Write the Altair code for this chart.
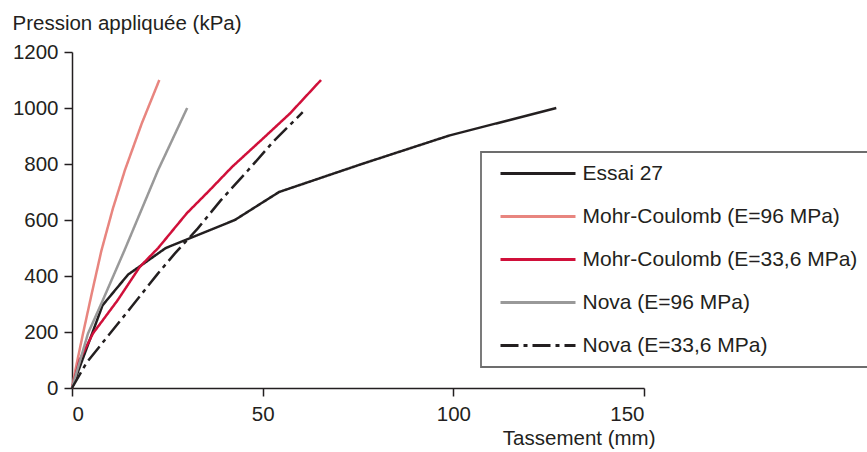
import altair as alt
import pandas as pd

series_names = [
    "Essai 27",
    "Mohr-Coulomb (E=96 MPa)",
    "Mohr-Coulomb (E=33,6 MPa)",
    "Nova (E=96 MPa)",
    "Nova (E=33,6 MPa)",
]
series_colors = ["#231f20", "#e8857f", "#d0103a", "#999999", "#231f20"]

essai_x = [0, 8, 14.7, 24.6, 42.7, 54.3, 76, 99, 127]
essai_y = [0, 295, 405, 500, 600, 700, 800, 902, 1000]

mc96_x = [0, 1.2, 2.9, 5.3, 7.7, 10.7, 13.9, 18.3, 22.9]
mc96_y = [0, 85, 195, 345, 490, 640, 779, 945, 1100]

mc336_x = [0, 2, 5.5, 12, 17.8, 22.6, 30.1, 36, 42, 50, 57.2, 65.3]
mc336_y = [0, 100, 195, 314, 433, 500, 624, 705, 790, 890, 981, 1100]

nova96_x = [0, 4.2, 8.1, 13.8, 22.6, 30.2]
nova96_y = [0, 195, 314, 493, 779, 1000]

nova336_x = [0, 3.8, 9.4, 15.6, 22.3, 27, 33, 39, 46, 52.8, 60.5]
nova336_y = [0, 90, 185, 290, 405, 481, 570, 670, 775, 880, 985]

x_ticks = [0, 50, 100, 150]
y_ticks = [0, 200, 400, 600, 800, 1000, 1200]

rows = []
for name, xs, ys in zip(
    series_names,
    [essai_x, mc96_x, mc336_x, nova96_x, nova336_x],
    [essai_y, mc96_y, mc336_y, nova96_y, nova336_y],
):
    for i, (xv, yv) in enumerate(zip(xs, ys)):
        rows.append({"serie": name, "x": xv, "y": yv, "i": i})
df = pd.DataFrame(rows)

FONT = "Liberation Sans"
TXT = "#231f20"

chart = (
    alt.Chart(df)
    .mark_line(strokeWidth=2.5)
    .encode(
        x=alt.X(
            "x:Q",
            scale=alt.Scale(domain=[0, 150], nice=False),
            axis=alt.Axis(
                values=x_ticks,
                format="d",
                title="Tassement (mm)",
                titleX=583,
                titleY=56,
                titleAlign="right",
                titleBaseline="alphabetic",
                labelPadding=8,
            ),
        ),
        y=alt.Y(
            "y:Q",
            scale=alt.Scale(domain=[0, 1200], nice=False),
            axis=alt.Axis(
                values=y_ticks,
                format="d",
                title="Pression appliquée (kPa)",
                titleAngle=0,
                titleX=-60,
                titleY=-23,
                titleAlign="left",
                titleBaseline="alphabetic",
                labelPadding=6,
            ),
        ),
        color=alt.Color(
            "serie:N",
            scale=alt.Scale(domain=series_names, range=series_colors),
            title=None,
        ),
        strokeDash=alt.StrokeDash(
            "serie:N",
            scale=alt.Scale(
                domain=series_names,
                range=[[1, 0], [1, 0], [1, 0], [1, 0], [18, 5, 4, 5]],
            ),
            title=None,
        ),
        order="i:Q",
    )
    .properties(
        width=572,
        height=336,
        autosize=alt.AutoSizeParams(type="none"),
        padding={"left": 72, "top": 52, "right": 223, "bottom": 64},
    )
    .configure_view(stroke=None)
    .configure_axis(
        grid=False,
        domainColor="#231f20",
        domainWidth=1.5,
        tickColor="#231f20",
        tickWidth=1.5,
        tickSize=8,
        labelFont=FONT,
        labelFontSize=20.5,
        labelColor=TXT,
        titleFont=FONT,
        titleFontSize=20.5,
        titleFontWeight="normal",
        titleColor=TXT,
    )
    .configure_legend(
        orient="none",
        legendX=409,
        legendY=100,
        padding=11,
        strokeColor="#6d6d6d",
        strokeWidth=1.8,
        symbolType="M-5,0H5",
        symbolSize=225,
        symbolStrokeWidth=3,
        symbolOffset=35.5,
        labelOffset=34,
        rowPadding=21,
        labelFont=FONT,
        labelFontSize=21,
        labelColor=TXT,
        labelLimit=400,
    )
)

chart.save("out.html", embed_options={"renderer": "svg", "actions": False})
